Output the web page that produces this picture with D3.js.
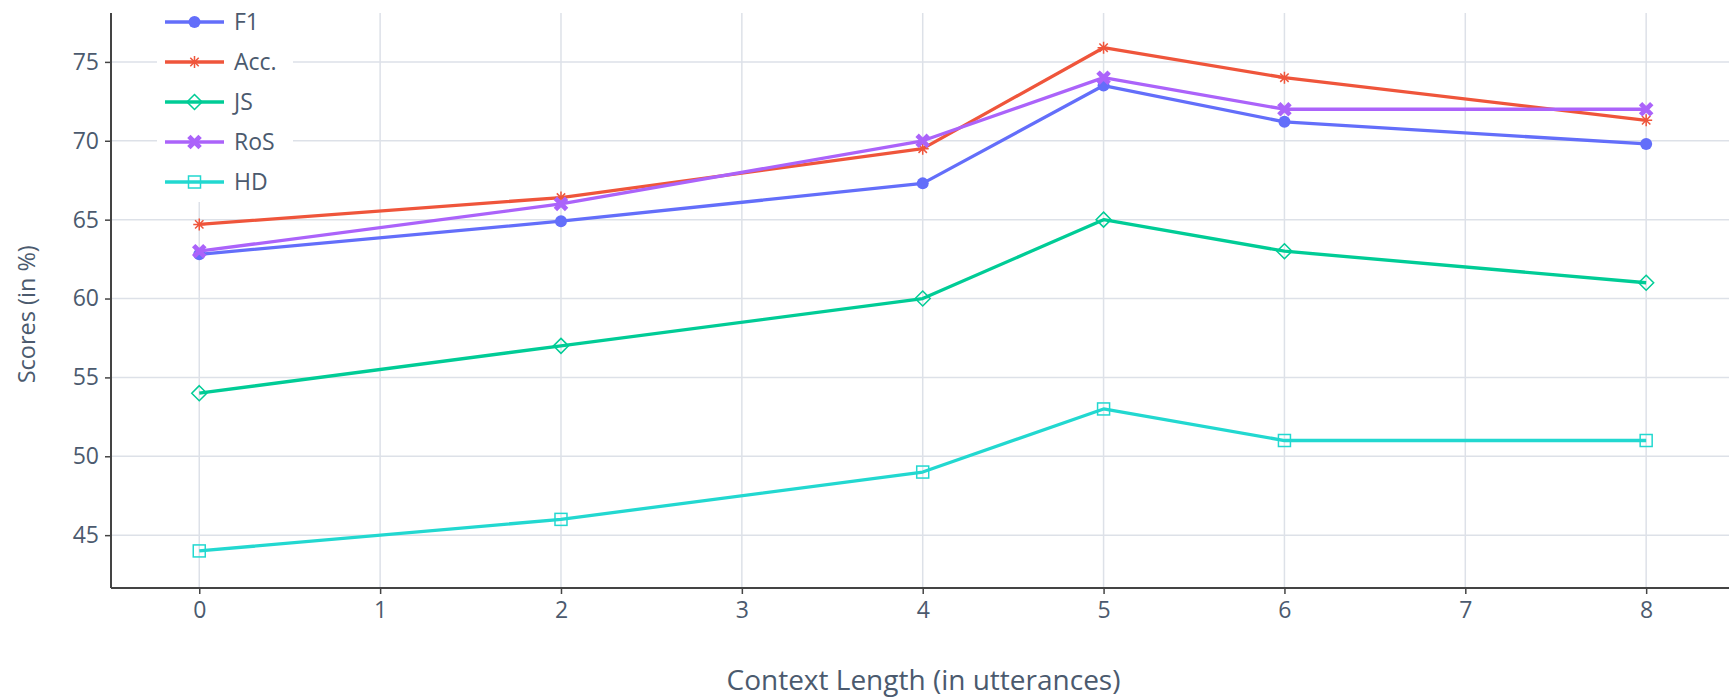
<!DOCTYPE html>
<html><head><meta charset="utf-8">
<script src="https://cdn.jsdelivr.net/npm/d3@7"></script>
<style>html,body{margin:0;padding:0;background:#fff;}svg{display:block;font-family:"Open Sans",sans-serif;}</style>
</head><body>
<svg id="chart" width="1729" height="698"></svg>
<script>
const xValues = [0, 2, 4, 5, 6, 8];
const seriesNames = ["F1", "Acc.", "JS", "RoS", "HD"];
const f1 = [62.8, 64.9, 67.3, 73.5, 71.2, 69.8];
const acc = [64.7, 66.4, 69.5, 75.9, 74.0, 71.3];
const js = [54, 57, 60, 65, 63, 61];
const ros = [63, 66, 70, 74, 72, 72];
const hd = [44, 46, 49, 53, 51, 51];
const xTicks = [0, 1, 2, 3, 4, 5, 6, 7, 8];
const yTicks = [45, 50, 55, 60, 65, 70, 75];
const xTitle = "Context Length (in utterances)";
const yTitle = "Scores (in %)";

const colors = ["#636efa", "#ef553b", "#00cc96", "#ab63fa", "#22d8d0"];
const symbols = ["circle", "asterisk", "diamond-open", "x", "square-open"];
const data = [f1, acc, js, ros, hd];

const svg = d3.select("#chart");
const L = 111, R = 1729, T = 13, B = 588;
const x = d3.scaleLinear().domain([-0.488, 8.458]).range([L, R]);
const y = d3.scaleLinear().domain([41.65, 78.1]).range([B, T]);
const textColor = "#4b5a6e";
const gridColor = "#dde1e8";

// grid
svg.append("g").selectAll("line").data(xTicks).join("line")
  .attr("x1", d => x(d)).attr("x2", d => x(d)).attr("y1", T).attr("y2", B)
  .attr("stroke", gridColor).attr("stroke-width", 1.5);
svg.append("g").selectAll("line").data(yTicks).join("line")
  .attr("x1", L).attr("x2", R).attr("y1", d => y(d)).attr("y2", d => y(d))
  .attr("stroke", gridColor).attr("stroke-width", 1.5);

// axes
const xAxis = svg.append("g").attr("transform", `translate(0,${B})`)
  .call(d3.axisBottom(x).tickValues(xTicks).tickSize(6).tickSizeOuter(0).tickPadding(8));
const yAxis = svg.append("g").attr("transform", `translate(${L},0)`)
  .call(d3.axisLeft(y).tickValues(yTicks).tickSize(6).tickSizeOuter(0).tickPadding(6));
[xAxis, yAxis].forEach(g => {
  g.select(".domain").attr("stroke", "#444").attr("stroke-width", 2);
  g.selectAll(".tick line").attr("stroke", "#444").attr("stroke-width", 1.5);
  g.selectAll(".tick text").attr("fill", textColor).attr("font-size", 23).attr("font-family", "Open Sans");
});
xAxis.select(".domain").attr("d", `M${L},0H${R}`);
yAxis.select(".domain").attr("d", `M0,${B}V${T}`);

// titles
svg.append("text").attr("y", 690)
  .attr("x", (659 + 1016) / 2 * 1729 / 1568)
  .attr("text-anchor", "middle").attr("fill", textColor).attr("font-size", 28).text(xTitle);
svg.append("text").attr("transform", `translate(35,${285 * 1729 / 1568}) rotate(-90)`)
  .attr("text-anchor", "middle").attr("fill", textColor).attr("font-size", 23.5).text(yTitle);

// marker drawing
function marker(g, sym, color, s) {
  const r = s / 2;
  if (sym === "circle") {
    g.append("circle").attr("r", r).attr("fill", color);
  } else if (sym === "asterisk") {
    const p = `M${-r},0H${r}M0,${-r}V${r}M${-r*0.7},${-r*0.7}L${r*0.7},${r*0.7}M${r*0.7},${-r*0.7}L${-r*0.7},${r*0.7}`;
    g.append("path").attr("d", p).attr("stroke", color).attr("stroke-width", 1.5).attr("fill", "none");
  } else if (sym === "diamond-open") {
    const q = r * 1.25;
    g.append("path").attr("d", `M0,${-q}L${q},0L0,${q}L${-q},0Z`).attr("stroke", color).attr("stroke-width", 1.5).attr("fill", "none");
  } else if (sym === "x") {
    const a = r * 0.65, w = r * 0.4;
    const p = `M${-a},${-a}L${a},${a}M${a},${-a}L${-a},${a}`;
    g.append("path").attr("d", p).attr("stroke", color).attr("stroke-width", w * 2).attr("stroke-linecap", "square").attr("fill", "none");
  } else if (sym === "square-open") {
    g.append("rect").attr("x", -r).attr("y", -r).attr("width", 2*r).attr("height", 2*r)
      .attr("stroke", color).attr("stroke-width", 1.5).attr("fill", "none");
  }
}

const line = d3.line().x((d, i) => x(xValues[i])).y(d => y(d));
data.forEach((vals, si) => {
  const g = svg.append("g");
  g.append("path").attr("d", line(vals)).attr("fill", "none")
    .attr("stroke", colors[si]).attr("stroke-width", 3.3).attr("stroke-linejoin", "round");
  vals.forEach((v, i) => {
    const mg = g.append("g").attr("transform", `translate(${x(xValues[i])},${y(v)})`);
    marker(mg, symbols[si], colors[si], 12);
  });
});

// legend
const lg = svg.append("g");
lg.append("rect").attr("x", 157).attr("y", 2).attr("width", 136).attr("height", 200).attr("fill", "#fff");
seriesNames.forEach((name, i) => {
  const cy = 22 + i * 40;
  lg.append("line").attr("x1", 165).attr("x2", 224).attr("y1", cy).attr("y2", cy)
    .attr("stroke", colors[i]).attr("stroke-width", 3.3);
  const mg = lg.append("g").attr("transform", `translate(194.5,${cy})`);
  marker(mg, symbols[i], colors[i], 12);
  lg.append("text").attr("x", 234).attr("y", cy).attr("dy", "0.35em")
    .attr("fill", textColor).attr("font-size", 23).text(name);
});
</script>
</body></html>
